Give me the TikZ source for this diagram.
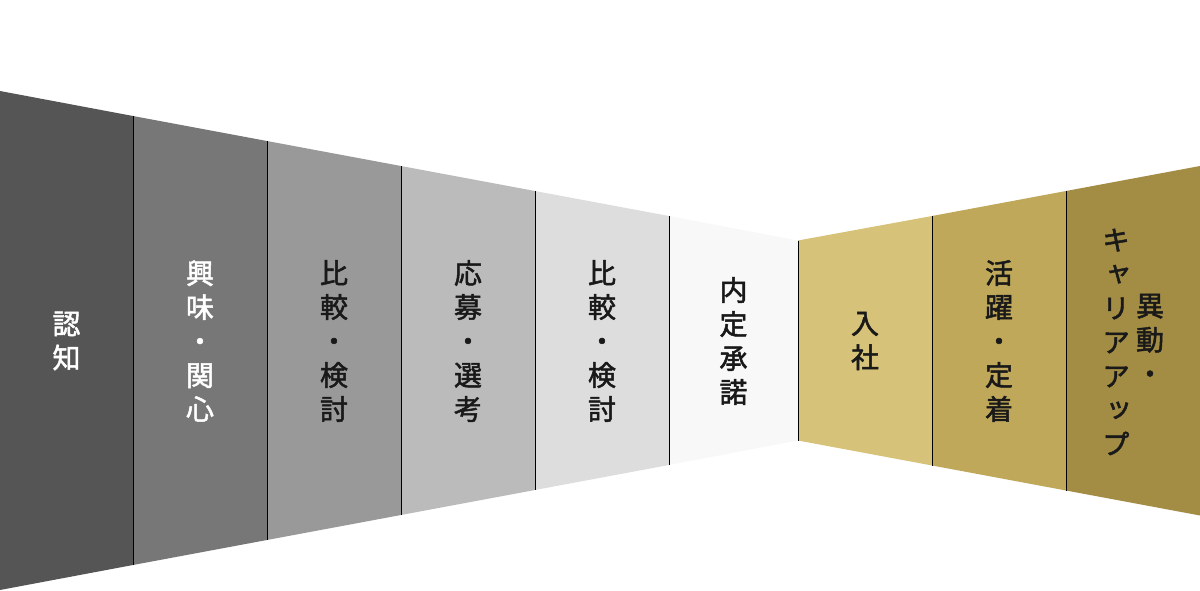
\documentclass[tikz,border=0pt]{standalone}
\usepackage{fontspec}
\newfontfamily\jpfont{Noto Sans CJK JP}[RawFeature=+vert,FakeBold=1.8]
\definecolor{ninchi}{HTML}{555555}
\definecolor{kyomi}{HTML}{777777}
\definecolor{hikakuA}{HTML}{999999}
\definecolor{obo}{HTML}{BBBBBB}
\definecolor{hikakuB}{HTML}{DDDDDD}
\definecolor{naitei}{HTML}{F8F8F8}
\definecolor{nyusha}{HTML}{D6C278}
\definecolor{katsuyaku}{HTML}{BFA859}
\definecolor{idou}{HTML}{A38C43}
\begin{document}
\begin{tikzpicture}[x=1pt,y=-1pt]
                \useasboundingbox (0,0) rectangle (1200,591);

                % top and bottom corners of the stages
                \coordinate (T0) at (0,91);      \coordinate (B0) at (0,590);
                \coordinate (T1) at (133,116);   \coordinate (B1) at (133,565);
                \coordinate (T2) at (267,141);   \coordinate (B2) at (267,540);
                \coordinate (T3) at (401,166);   \coordinate (B3) at (401,515);
                \coordinate (T4) at (535,191);   \coordinate (B4) at (535,490);
                \coordinate (T5) at (669,216);   \coordinate (B5) at (669,465);
                \coordinate (T6) at (798,240.5); \coordinate (B6) at (798,440.5);
                \coordinate (T7) at (932,216);   \coordinate (B7) at (932,465.5);
                \coordinate (T8) at (1066,191);  \coordinate (B8) at (1066,490.5);
                \coordinate (T9) at (1200,166);  \coordinate (B9) at (1200,515.5);

                \fill[ninchi]    (T0) -- (T1) -- (B1) -- (B0) -- cycle;
                \fill[kyomi]     (T1) -- (T2) -- (B2) -- (B1) -- cycle;
                \fill[hikakuA]   (T2) -- (T3) -- (B3) -- (B2) -- cycle;
                \fill[obo]       (T3) -- (T4) -- (B4) -- (B3) -- cycle;
                \fill[hikakuB]   (T4) -- (T5) -- (B5) -- (B4) -- cycle;
                \fill[naitei]    (T5) -- (T6) -- (B6) -- (B5) -- cycle;
                \fill[nyusha]    (T6) -- (T7) -- (B7) -- (B6) -- cycle;
                \fill[katsuyaku] (T7) -- (T8) -- (B8) -- (B7) -- cycle;
                \fill[idou]      (T8) -- (T9) -- (B9) -- (B8) -- cycle;

                \begin{scope}[every path/.style={draw=black,line width=1pt}]
                    \path (T1) -- (B1);
                    \path (T2) -- (B2);
                    \path (T3) -- (B3);
                    \path (T4) -- (B4);
                    \path (T5) -- (B5);
                    \path (T6) -- (B6);
                    \path (T7) -- (B7);
                    \path (T8) -- (B8);
                \end{scope}

                \begin{scope}[every node/.style={align=center,inner sep=0pt,text=black!90,
                            font=\jpfont\fontsize{28}{34}\selectfont}]
                    \node[text=white] (ninchi) at (66.5,341) {認\\知};
                    \node[text=white] (kyomi) at (200,341) {興\\味\\・\\関\\心};
                    \node (hikakuA) at (334,341) {比\\較\\・\\検\\討};
                    \node (obo) at (468,341) {応\\募\\・\\選\\考};
                    \node (hikakuB) at (602,341) {比\\較\\・\\検\\討};
                    \node (naitei) at (733.5,341) {内\\定\\承\\諾};
                    \node (nyusha) at (865,341) {入\\社};
                    \node (katsuyaku) at (999,341) {活\\躍\\・\\定\\着};
                    \node (idou) at (1150,339) {異\\動\\・};
                    \node (career) at (1116,342) {キ\\ャ\\リ\\ア\\ア\\ッ\\プ};
                \end{scope}
            \end{tikzpicture}
\end{document}
